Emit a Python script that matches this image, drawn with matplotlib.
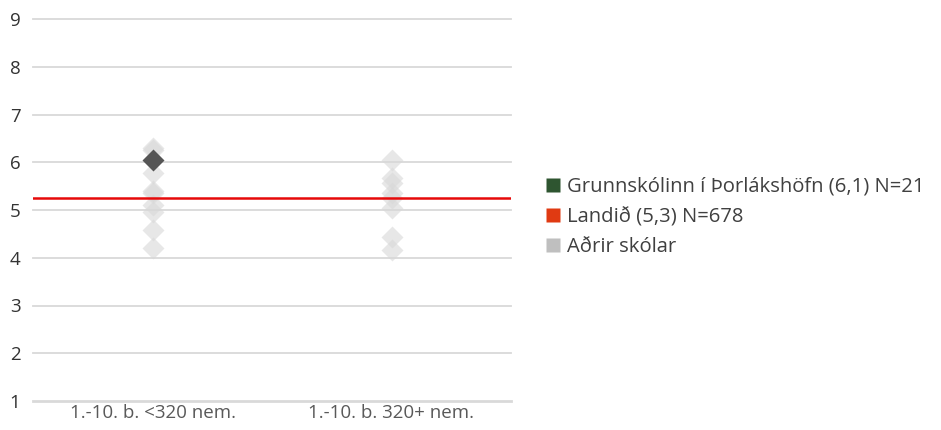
import matplotlib.pyplot as plt
from matplotlib.lines import Line2D

plt.rcParams['font.family'] = ['Open Sans', 'DejaVu Sans']

categories = ["1.-10. b. <320 nem.", "1.-10. b. 320+ nem."]
# other schools per category
others_small = [6.3, 6.25, 5.77, 5.4, 5.35, 5.1, 4.96, 4.58, 4.2]
others_large = [6.05, 5.66, 5.56, 5.35, 5.25, 5.04, 4.44, 4.16]
school_value = 6.05          # Grunnskólinn í Þorlákshöfn, shown in first category
national_value = 5.25        # Landið
legend_labels = ["Grunnskólinn í Þorlákshöfn (6,1) N=21",
                 "Landið (5,3) N=678",
                 "Aðrir skólar"]

fig = plt.figure(figsize=(9.41, 4.30), dpi=100)
ax = fig.add_axes([33 / 941, 1 - 401 / 430, (511 - 33) / 941, (401 - 19) / 430])

ax.set_xlim(0, 2)
ax.set_ylim(1, 9)
for v in range(1, 10):
    ax.axhline(v, color='#d9d9d9', lw=1.3 if v > 1 else 2, zorder=0, clip_on=False)

xs = [0.5, 1.5]
for x, vals in zip(xs, [others_small, others_large]):
    ax.plot([x] * len(vals), vals, 'D', ms=11, color='#d8d8d8', alpha=0.6,
            mec='none', zorder=2, clip_on=False)
ax.plot([xs[0]], [school_value], 'D', ms=11, color='#555555', mec='none', zorder=4)
ax.axhline(national_value, color='#e60a0a', lw=1.8, zorder=3)

ax.set_xticks(xs)
ax.set_xticklabels(categories, fontsize=13.5, color='#595959')
ax.set_yticks(range(1, 10))
ax.tick_params(axis='y', labelsize=13.5, colors='#333333', length=0, pad=9)
ax.tick_params(axis='x', length=0, pad=2)
for s in ax.spines.values():
    s.set_visible(False)

handles = [Line2D([], [], marker='s', ls='none', ms=10.5, color=c, mec='none')
           for c in ['#2e5530', '#e03a12', '#bfbfbf']]
fig.legend(handles, legend_labels, loc='center left', bbox_to_anchor=(528 / 941, 1 - 217 / 430),
           frameon=False, fontsize=14.6, labelcolor='#404040', handlelength=0.7,
           handletextpad=0.3, labelspacing=0.5)

fig.savefig('out.png', dpi=100)
